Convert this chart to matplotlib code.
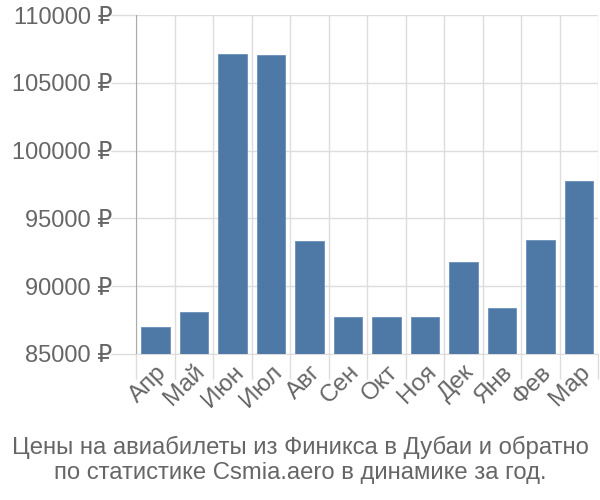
import numpy as np
import matplotlib.pyplot as plt

months = ['Апр', 'Май', 'Июн', 'Июл', 'Авг', 'Сен', 'Окт', 'Ноя', 'Дек', 'Янв', 'Фев', 'Мар']
prices = [87000, 88100, 107150, 107050, 93300, 87750, 87750, 87750, 91800, 88400, 93400, 97750]
yticks = [85000, 90000, 95000, 100000, 105000, 110000]
title = 'Цены на авиабилеты из Финикса в Дубаи и обратно\nпо статистике Csmia.aero в динамике за год.'

plt.rcParams['font.family'] = ['Liberation Sans', 'DejaVu Sans']

fig = plt.figure(figsize=(6, 5), dpi=100)
ax = fig.add_axes([0.2267, 0.292, 0.77, 0.678])

x = np.arange(len(months))
ax.bar(x, prices, width=0.74, color='#4e79a7', edgecolor='#6a8fb8', linewidth=0.6, zorder=3)

ax.set_xlim(-0.5, len(months) - 0.5)
ax.set_ylim(85000, 110000)
ax.set_yticks(yticks)
ax.set_yticklabels([f'{v} ₽' for v in yticks])

# vertical grid on category boundaries, drawn as minor ticks
ax.set_xticks(x)
ax.set_xticklabels(months, rotation=45, ha='right', rotation_mode='anchor')
ax.set_xticks(np.arange(-0.5, len(months)), minor=True)
ax.tick_params(axis='x', which='major', length=0, pad=5, labelsize=17.5, labelcolor='#666666')
ax.tick_params(axis='x', which='minor', length=18, color='#dddddd', width=1)
ax.tick_params(axis='y', length=18, color='#dddddd', width=1, labelsize=17, labelcolor='#666666', pad=-1)
ax.grid(True, which='minor', axis='x', color='#dddddd', linewidth=1, zorder=0)
ax.grid(True, which='major', axis='y', color='#dddddd', linewidth=1, zorder=0)

for s in ['top', 'right']:
    ax.spines[s].set_visible(False)
ax.spines['left'].set_color('#aaaaaa')
ax.spines['bottom'].set_color('#dddddd')

fig.text(0.5, 0.08, title, ha='center', va='center', fontsize=17.2, color='#666666', linespacing=1.2)

fig.savefig('out.png')
